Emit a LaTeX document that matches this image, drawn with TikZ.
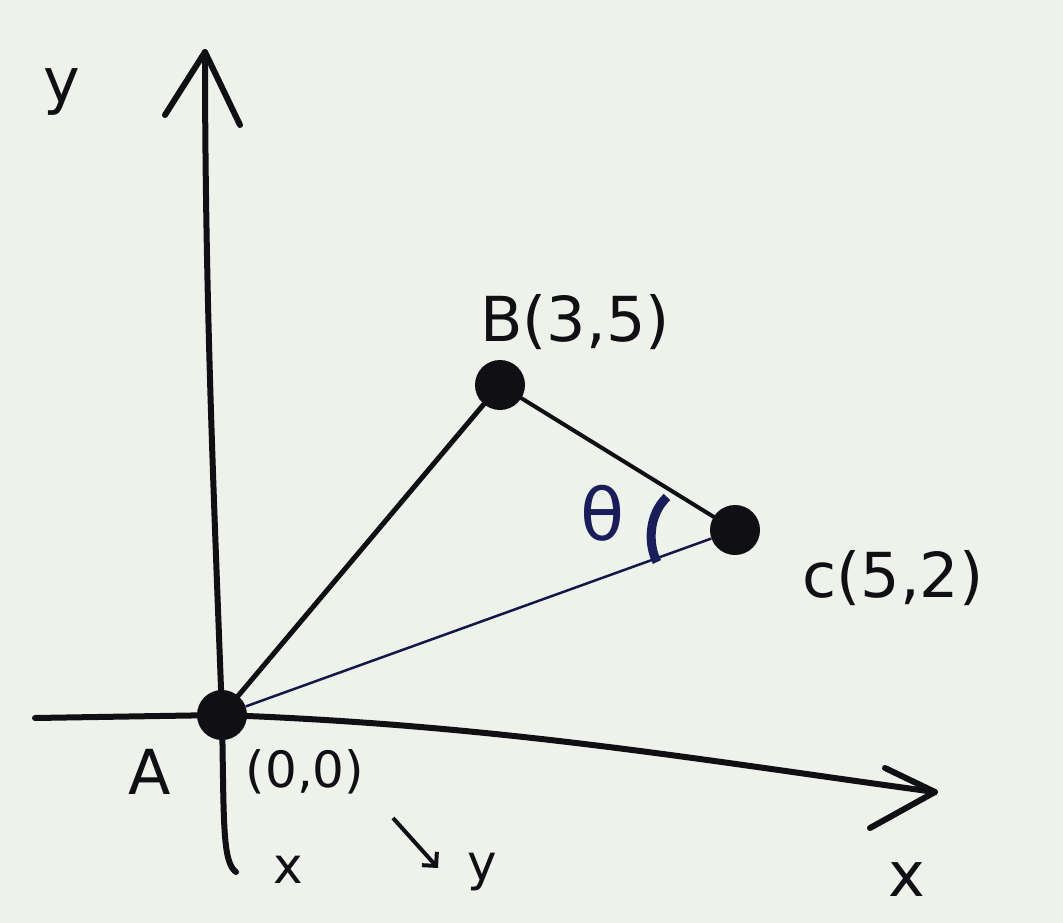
\documentclass[tikz,border=0pt]{standalone}
\usepackage{fontspec}
\setmainfont{DejaVu Sans}
\usetikzlibrary{arrows.meta}
\definecolor{paper}{RGB}{238,242,234}
\definecolor{ink}{RGB}{15,15,20}
\definecolor{blueink}{RGB}{25,30,90}
\begin{document}
\begin{tikzpicture}[x=1pt,y=-1pt,
  ax/.style={draw=ink,line width=6pt,line cap=round,line join=round},
  seg/.style={draw=ink,line width=5pt,line cap=round},
  thin/.style={draw=blueink!80!black,line width=2.5pt},
  dot/.style={circle,fill=ink,inner sep=0pt,minimum size=50pt},
  lbl/.style={text=ink,font=\fontsize{62}{70}\selectfont},
  sml/.style={text=ink,font=\fontsize{50}{56}\selectfont}]
\fill[paper] (0,0) rectangle (1063,923);
\useasboundingbox (0,0) rectangle (1063,923);
% points
\node[dot] (A) at (222,715) {};
\node[dot] (B) at (500,385) {};
\node[dot] (C) at (735,530) {};
% axes
\coordinate (ybot) at (236,872);
\coordinate (ytop) at (205,52);
\coordinate (xl) at (35,718);
\coordinate (xr) at (935,792);
\draw[ax] (ybot) .. controls (222,862) and (224,820) .. (A.center) .. controls (214,500) and (205,300) .. (ytop);
\draw[ax] (165,115) -- (ytop) -- (240,125);
\draw[ax] (xl) -- (A.center) .. controls (500,725) and (700,760) .. (xr);
\draw[ax] (885,768) -- (xr) -- (870,828);
% triangle
\draw[seg] (A) -- (B);
\draw[seg,line width=4pt] (B) -- (C);
\draw[thin] (A) -- (C);
% angle arc
\draw[blueink,line width=9pt] (667,497) .. controls (648,515) and (648,545) .. (657,562);
% labels
\node[lbl] (ylab) at (62,92) {y};
\node[lbl] (Blab) at (575,322) {B(3,5)};
\node[lbl] (Clab) at (893,578) {c(5,2)};
\node[lbl,text=blueink,font=\fontsize{72}{80}\selectfont] (theta) at (603,513) {θ};
\node[lbl] (Alab) at (150,772) {A};
\node[lbl] (xlab) at (907,880) {x};
\node[sml] (orig) at (305,772) {(0,0)};
\node[sml] (ox) at (288,870) {x};
\node[sml] (oy) at (482,872) {y};
\coordinate (arS) at (393,818);
\coordinate (arE) at (438,868);
\draw[ink,line width=4pt,-{Straight Barb[length=10pt]}] (arS) -- (arE);
\end{tikzpicture}
\end{document}
